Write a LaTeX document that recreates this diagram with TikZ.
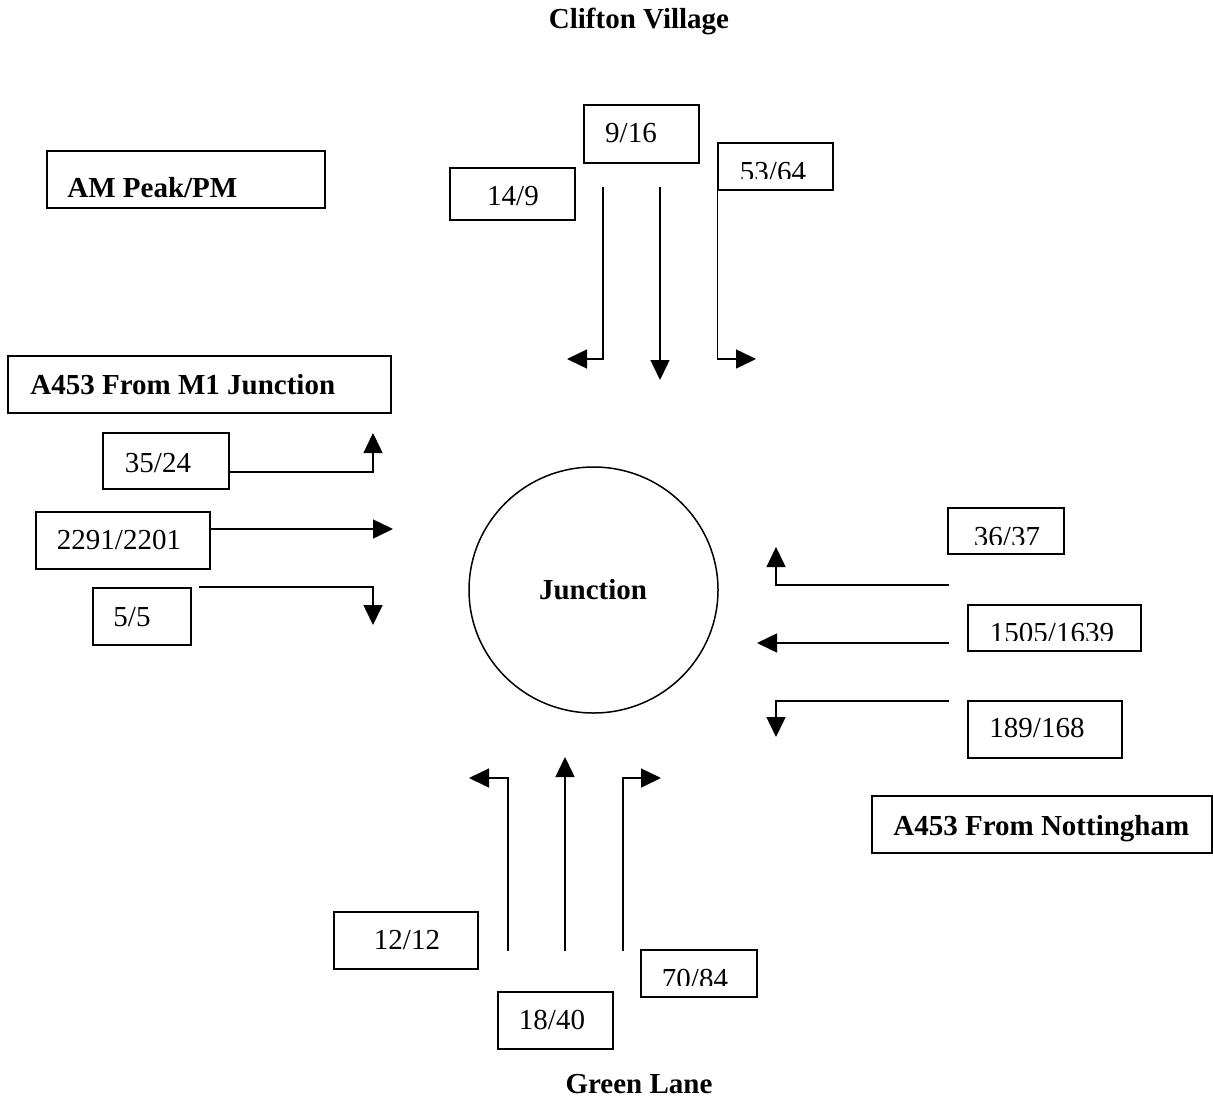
\documentclass[tikz,border=0pt]{standalone}
\usepackage{fontspec}
\setmainfont{Liberation Serif}
\usetikzlibrary{arrows.meta,shapes.geometric}

% rectangular count box given by its corners: name, x1, y1, x2, y2
\newcommand\countbox[5]{%
  \node[box, minimum width={(#4-#2)*0.5pt}, minimum height={(#5-#3)*0.5pt}]
    (#1) at ({(#2+#4)/2},{(#3+#5)/2}) {};}

\begin{document}
\begin{tikzpicture}[x=0.5pt, y=-0.5pt,
  box/.style={draw, rectangle, inner sep=0pt, line width=0.75pt},
  num/.style={font=\fontsize{14.5}{17}\selectfont, inner sep=0pt, anchor=base},
  head/.style={font=\fontsize{14.5}{17}\selectfont\bfseries, inner sep=0pt, anchor=base},
  flow/.style={-{Triangle[length=10pt,width=9.5pt]}, line width=0.75pt},
]
\useasboundingbox (0,0) rectangle (1213,1097);

% approach names
\node[head] (clifton) at (639,28.5) {Clifton Village};
\node[head] (green) at (639,1093) {Green Lane};

% legend and approach boxes
\countbox{peak}{47}{151}{325}{208}
\node[head, anchor=base west] (peaktxt) at (67,197) {AM Peak/PM};
\countbox{mone}{8}{356}{391}{413}
\node[head, anchor=base west] (monetxt) at (30,394) {A453 From M1 Junction};
\countbox{nott}{872}{796}{1212}{853}
\node[head, anchor=base west] (notttxt) at (893,835) {A453 From Nottingham};

% junction
\node[draw, ellipse, line width=0.75pt, inner sep=0pt,
      minimum width=124.5pt, minimum height=123pt] (junc) at (593.5,590) {};
\node[head] (junctxt) at (593,599) {Junction};

% ---- Clifton Village arm ----
\countbox{cA}{450}{168}{575}{220}
\node[num] at (513,205) {14/9};
\countbox{cB}{584}{105}{699}{163}
\node[num] at (631,142) {9/16};
\countbox{cC}{718}{143}{833}{190}
\begin{scope}
  \clip (718,143) rectangle (833,178);
  \node[num] at (773,181.5) {53/64};
\end{scope}
\coordinate (cAs) at (603,187);  \coordinate (cAe) at (567,359);
\coordinate (cBs) at (660,187);  \coordinate (cBe) at (660,380);
\coordinate (cCe) at (756,359);
\draw[flow] (cAs) |- (cAe);
\draw[flow] (cBs) -- (cBe);
\draw[flow] (cC.south west) |- (cCe);

% ---- A453 from M1 arm ----
\countbox{mA}{103}{433}{229}{489}
\node[num] at (158,472) {35/24};
\countbox{mB}{36}{512}{210}{569}
\node[num] at (119,549) {2291/2201};
\countbox{mC}{93}{588}{191}{645}
\node[num] at (132,626) {5/5};
\coordinate (mAs) at (229,472);  \coordinate (mAe) at (373,433);
\coordinate (mBs) at (210,529);  \coordinate (mBe) at (393,529);
\coordinate (mCs) at (199,587);  \coordinate (mCe) at (373,625);
\draw[flow] (mAs) -| (mAe);
\draw[flow] (mBs) -- (mBe);
\draw[flow] (mCs) -| (mCe);

% ---- A453 from Nottingham arm ----
\countbox{nA}{948}{508}{1064}{554}
\begin{scope}
  \clip (948,508) rectangle (1064,544);
  \node[num] at (1007,546) {36/37};
\end{scope}
\countbox{nB}{968}{605}{1141}{651}
\begin{scope}
  \clip (968,605) rectangle (1141,640);
  \node[num] at (1052,642) {1505/1639};
\end{scope}
\countbox{nC}{968}{701}{1122}{758}
\node[num] at (1037,737) {189/168};
\coordinate (nAs) at (949,585);  \coordinate (nAe) at (776,547);
\coordinate (nBs) at (949,643);  \coordinate (nBe) at (757,643);
\coordinate (nCs) at (949,701);  \coordinate (nCe) at (776,737);
\draw[flow] (nAs) -| (nAe);
\draw[flow] (nBs) -- (nBe);
\draw[flow] (nCs) -| (nCe);

% ---- Green Lane arm ----
\countbox{gA}{334}{912}{478}{969}
\node[num] at (407,949) {12/12};
\countbox{gB}{498}{992}{613}{1049}
\node[num] at (552,1029) {18/40};
\countbox{gC}{641}{950}{757}{997}
\begin{scope}
  \clip (641,950) rectangle (757,985);
  \node[num] at (695,988) {70/84};
\end{scope}
\coordinate (gAs) at (508,951);  \coordinate (gAe) at (469,778);
\coordinate (gBs) at (565,951);  \coordinate (gBe) at (565,757);
\coordinate (gCs) at (623,951);  \coordinate (gCe) at (661,778);
\draw[flow] (gAs) |- (gAe);
\draw[flow] (gBs) -- (gBe);
\draw[flow] (gCs) |- (gCe);
\end{tikzpicture}
\end{document}
